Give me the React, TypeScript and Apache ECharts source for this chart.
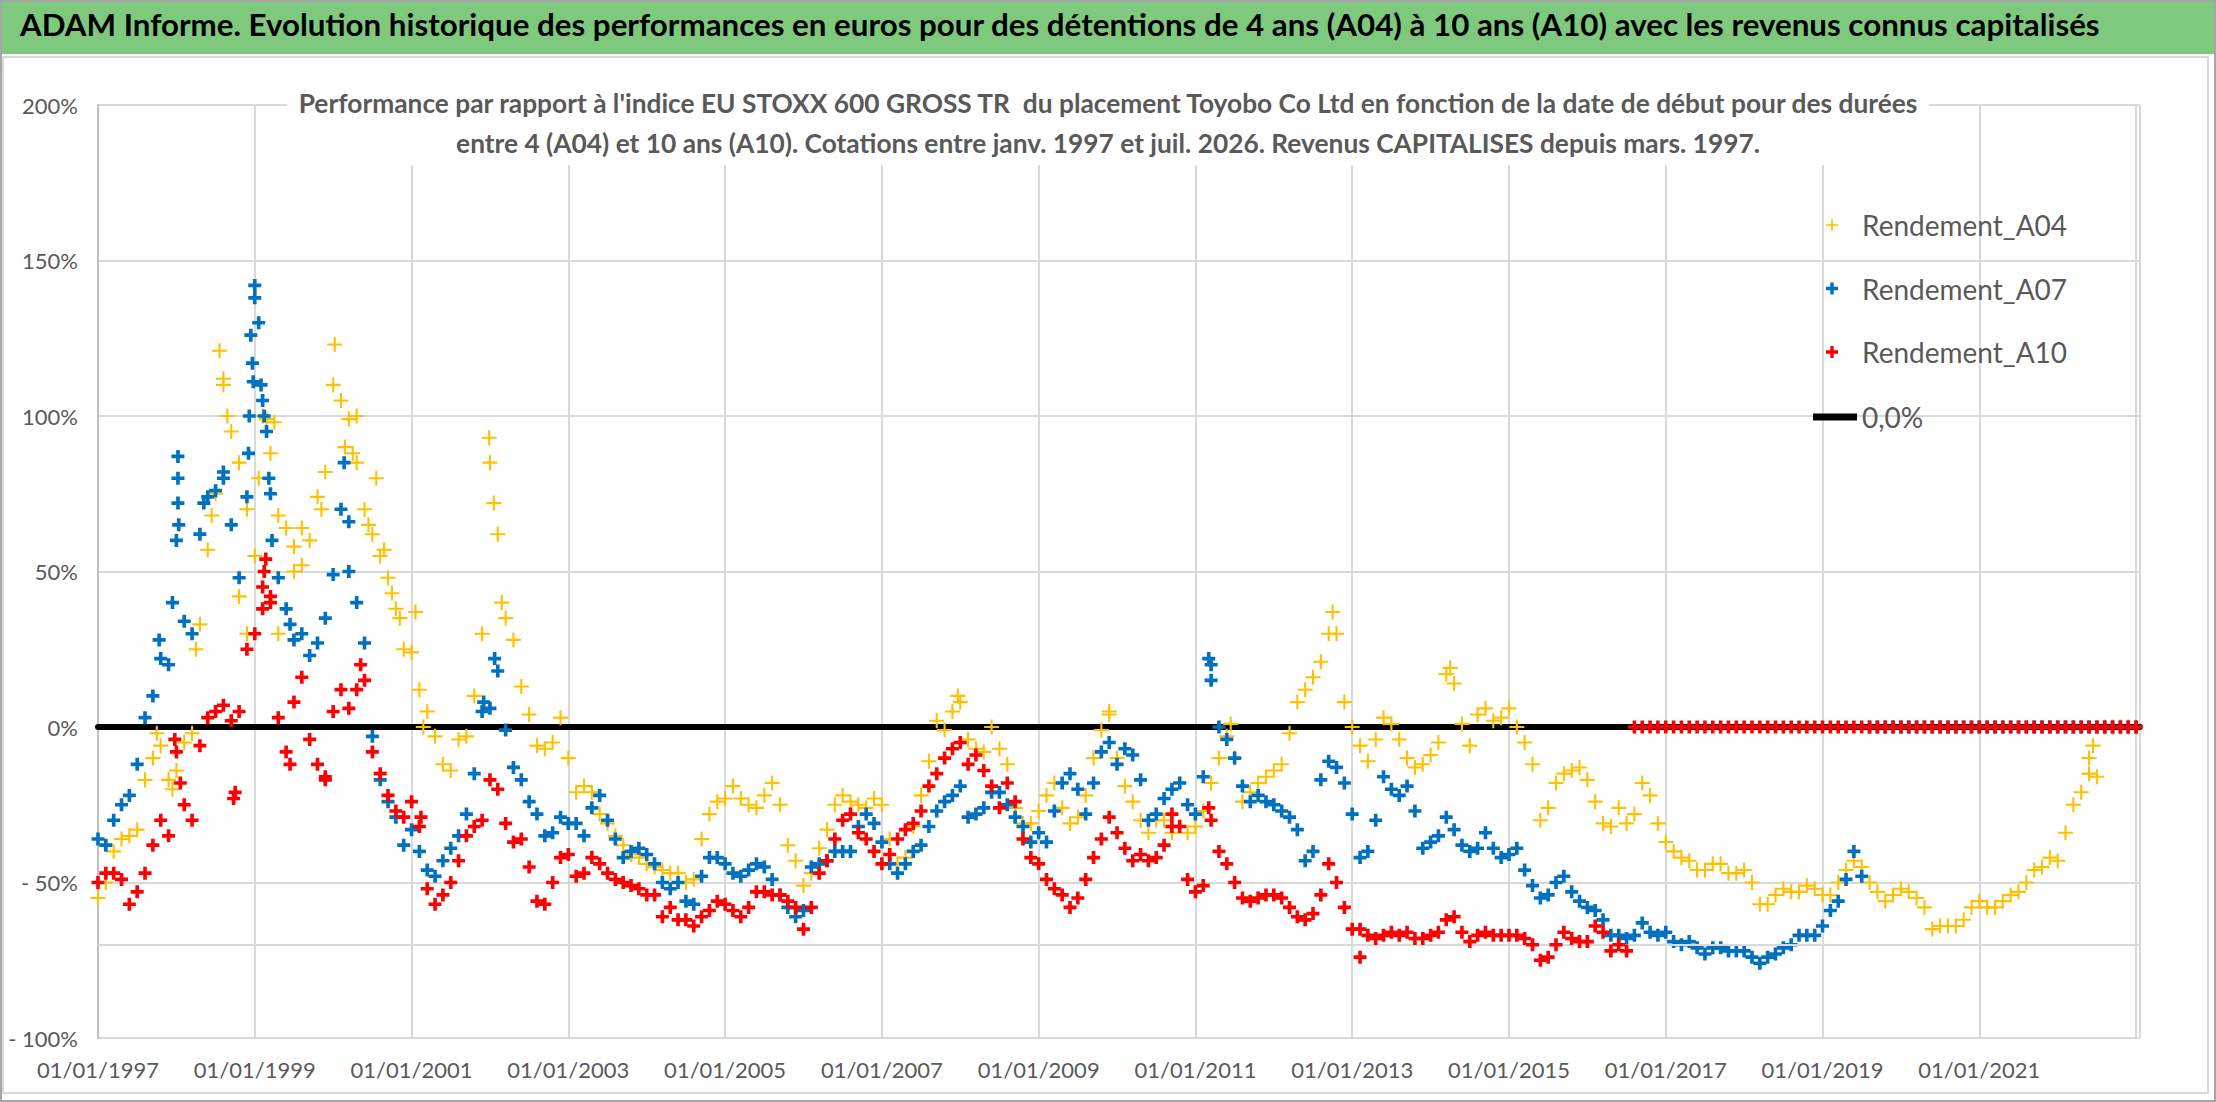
import { useEffect, useRef } from 'react';
import * as echarts from 'echarts';

const TITLE = "ADAM Informe. Evolution historique des performances en euros pour des détentions de 4 ans (A04) à 10 ans (A10) avec les revenus connus capitalisés";
const SUBTITLE = "Performance par rapport à l'indice EU STOXX 600 GROSS TR  du placement Toyobo Co Ltd en fonction de la date de début pour des durées\nentre 4 (A04) et 10 ans (A10). Cotations entre janv. 1997 et juil. 2026. Revenus CAPITALISES depuis mars. 1997.";

const SERIES_NAMES = ['Rendement_A04', 'Rendement_A07', 'Rendement_A10'];
const ZERO_NAME = '0,0%';

// dates de début : 1997.0, 1997.1, ... (pas de 0,1 an)
const START_YEAR = 1997;
const STEP = 0.1;
const X_MIN = 1997;
const X_MAX = 2023.05;
const Y_TICKS = [-100, -50, 0, 50, 100, 150, 200];

const a04 = [
  -55, -50, -40, -36, -35, -33, -17, -10, -6, -17,
  -14, -5, -2, 33, 57, 75, 110, 95, 85, 70,
  55, 100, 88, 68, 64, 58, 52, 60, 74, 82,
  110, 105, 99, 85, 70, 62, 55, 48, 38, 25,
  24, 12, 5, -3, -12, -14, -4, -3, 10, 30,
  85, 62, 35, 28, 13, 4, -6, -7, -5, 3,
  -10, -21, -19, -21, -28, -31, -35, -38, -41, -42,
  -44, -45, -46, -47, -47, -50, -49, -36, -28, -24,
  -23, -19, -23, -25, -26, -22, -18, -25, -38, -43,
  -51, -47, -39, -33, -25, -22, -24, -25, -26, -23,
  -25, -36, -44, -42, -32, -22, -11, 2, -1, 5,
  8, -4, -7, -8, 0, -7, -12, -26, -31, -31,
  -27, -22, -18, -26, -31, -29, -22, -10, -1, 4,
  -10, -19, -24, -30, -34, -30, -30, -34, -32, -34,
  -32, -27, -18, -10, -3, -10, -24, -21, -18, -16,
  -14, -12, -2, 8, 12, 16, 21, 30, 30, 8,
  0, -6, -11, -4, 3, 1, -4, -10, -13, -12,
  -9, -5, 17, 14, 1, -6, 4, 6, 2, 3,
  6, 0, -5, -12, -30, -26, -18, -15, -14, -13,
  -17, -24, -31, -32, -26, -31, -28, -18, -22, -31,
  -37, -40, -42, -43, -46, -46, -44, -44, -47, -47,
  -46, -50, -57, -57, -54, -52, -53, -53, -51, -52,
  -54, -54, -50, -46, -43, -45, -50, -53, -56, -54,
  -52, -53, -55, -58, -65, -64, -64, -64, -62, -58,
  -56, -58, -58, -56, -54, -53, -50, -46, -45, -42,
  -43, -34, -25, -21, -15, -16, 0, 0, 0, 0,
  0,
];

const a07 = [
  -36, -38, -30, -25, -22, -12, 3, 10, 22, 20,
  60, 34, 30, 62, 74, 76, 80, 65, 48, 74,
  138, 105, 75, 48, 38, 28, 30, 23, 27, 35,
  49, 70, 66, 40, 27, -3, -17, -24, -29, -38,
  -33, -40, -46, -48, -43, -39, -35, -28, -15, 5,
  6, 18, -1, -13, -17, -24, -28, -35, -34, -29,
  -31, -31, -35, -26, -22, -30, -36, -42, -40, -39,
  -41, -44, -50, -52, -50, -56, -57, -48, -42, -42,
  -44, -47, -48, -46, -44, -45, -49, -54, -58, -61,
  -59, -45, -44, -43, -40, -40, -40, -32, -28, -31,
  -37, -44, -47, -44, -40, -38, -32, -27, -24, -22,
  -19, -29, -28, -26, -21, -21, -25, -29, -32, -37,
  -34, -37, -27, -18, -15, -20, -28, -18, -8, -5,
  -12, -7, -9, -17, -30, -28, -23, -20, -18, -25,
  -28, -16, 15, 0, -4, -10, -19, -24, -22, -24,
  -25, -27, -29, -33, -43, -40, -17, -11, -13, -18,
  -28, -42, -40, -30, -16, -20, -22, -19, -27, -39,
  -37, -35, -29, -33, -38, -40, -39, -34, -39, -42,
  -41, -39, -46, -51, -55, -54, -50, -48, -53, -56,
  -58, -59, -62, -67, -67, -68, -67, -63, -66, -67,
  -66, -69, -70, -69, -71, -73, -71, -71, -72, -72,
  -72, -74, -76, -74, -73, -71, -70, -67, -67, -67,
  -64, -59, -56, -49, -40, -48, 0, 0, 0, 0,
  0, 0, 0, 0, 0, 0, 0, 0, 0, 0,
  0, 0, 0, 0, 0, 0, 0, 0, 0, 0,
  0, 0, 0, 0, 0, 0, 0, 0, 0, 0,
  0,
];

const a10 = [
  -50, -47, -47, -49, -57, -53, -47, -38, -30, -35,
  -8, -25, -30, -6, 3, 5, 7, 2, 5, 25,
  30, 45, 40, 3, -8, 8, 16, -4, -12, -16,
  5, 12, 6, 12, 15, -8, -15, -22, -27, -29,
  -24, -32, -52, -57, -54, -50, -43, -35, -32, -30,
  -17, -20, -31, -37, -36, -45, -56, -57, -50, -42,
  -41, -48, -47, -42, -44, -47, -49, -50, -51, -52,
  -54, -54, -61, -58, -62, -62, -64, -61, -59, -56,
  -57, -59, -61, -58, -53, -53, -54, -54, -56, -58,
  -65, -58, -47, -43, -36, -30, -28, -34, -36, -40,
  -44, -41, -36, -33, -31, -27, -19, -15, -10, -7,
  -5, -12, -9, -14, -19, -26, -18, -24, -36, -42,
  -44, -49, -52, -54, -58, -55, -49, -42, -36, -29,
  -34, -39, -43, -41, -43, -42, -38, -32, -32, -49,
  -53, -51, -30, -40, -44, -50, -55, -56, -55, -54,
  -54, -55, -58, -61, -62, -60, -54, -44, -50, -58,
  -65, -65, -67, -68, -67, -66, -67, -66, -68, -68,
  -67, -66, -62, -61, -66, -69, -67, -66, -67, -67,
  -67, -67, -68, -70, -75, -74, -70, -66, -68, -69,
  -69, -64, -66, -72, -70, -72, 0, 0, 0, 0,
  0, 0, 0, 0, 0, 0, 0, 0, 0, 0,
  0, 0, 0, 0, 0, 0, 0, 0, 0, 0,
  0, 0, 0, 0, 0, 0, 0, 0, 0, 0,
  0, 0, 0, 0, 0, 0, 0, 0, 0, 0,
  0, 0, 0, 0, 0, 0, 0, 0, 0, 0,
  0, 0, 0, 0, 0, 0, 0, 0, 0, 0,
  0,
];

// points isolés (pics, dispersion) : [année, %]
const a04Extra = [
  [1997.75, -2], [1997.95, -20], [1998.25, 25], [1998.45, 68], [1998.55, 121], [1998.6, 112],
  [1998.65, 100], [1998.8, 42], [1998.9, 30], [1999.05, 80], [1999.15, 99], [1999.25, 98],
  [1999.3, 30], [1999.5, 50], [1999.6, 64], [1999.85, 70], [2000.02, 123], [2000.15, 90],
  [2000.25, 88], [2000.3, 100], [2000.45, 65], [2000.55, 80], [2000.65, 57], [2000.75, 43],
  [2000.85, 35], [2001.05, 37], [2001.15, 0], [2001.99, 93], [2002.05, 72], [2002.15, 40],
  [2007.97, 10], [2009.9, 5], [2011.45, 1], [2012.75, 37], [2014.25, 19],
  [2022.4, -10], [2022.45, -6],
];
const a07Extra = [
  [1997.78, 28], [1997.95, 40], [1998.02, 87], [1998.02, 80], [1998.02, 72], [1998.03, 65],
  [1998.35, 72], [1998.6, 82], [1998.92, 88], [1998.93, 100], [1998.95, 126], [1998.97, 117],
  [1998.98, 111], [1999.05, 130], [1999.08, 110], [1999.12, 100], [1999.15, 95], [1999.18, 80],
  [1999.22, 60], [1999.45, 33], [1999.0, 142], [2000.14, 85], [2000.2, 50], [2001.92, 8],
  [2002.06, 22], [2011.17, 22], [2011.2, 20],
];
const a10Extra = [
  [1997.98, -4], [1998.05, -18], [1998.73, -23], [1998.75, -21], [1999.1, 38], [1999.12, 50],
  [1999.14, 54], [1999.2, 42], [1999.45, -12], [1999.9, -17], [2000.35, 20], [2001.12, -29],
  [2010.7, -28], [2011.17, -26], [2013.1, -74],
];

const FONT = "Lato, 'Noto Sans', sans-serif";
const GREY_TEXT = '#595959';
const GRID_COLOR = '#d9d9d9';
const COLORS = ['#ffc000', '#0070c0', '#ff0000'];
const PLUS_THIN = 'path://M4.3,0H5.7V4.3H10V5.7H5.7V10H4.3V5.7H0V4.3H4.3Z';
const PLUS_THICK = 'path://M3.6,0H6.4V3.6H10V6.4H6.4V10H3.6V6.4H0V3.6H3.6Z';

const toPoints = (vals: number[]) =>
  vals.map((v, i) => [Math.round((START_YEAR + i * STEP) * 100) / 100, v]);

export default function App() {
  const chartRef = useRef<HTMLDivElement>(null);

  useEffect(() => {
    if (!chartRef.current) return;
    const chart = echarts.init(chartRef.current, null, { renderer: 'svg' });

    const main = [a04, a07, a10];
    const extra = [a04Extra, a07Extra, a10Extra];

    const scatter = SERIES_NAMES.map((name, k) => ({
      name,
      type: 'scatter',
      symbol: k === 0 ? PLUS_THIN : PLUS_THICK,
      symbolSize: k === 0 ? 15 : 13,
      itemStyle: { color: COLORS[k], opacity: 1 },
      z: 3 + k,
      data: [...toPoints(main[k]), ...extra[k]],
    }));

    const option = {
      animation: false,
      backgroundColor: '#fff',
      textStyle: { fontFamily: FONT },
      title: [
        {
          text: TITLE,
          left: 20,
          top: 8,
          padding: 0,
          textStyle: { fontFamily: FONT, fontSize: 31.3, fontWeight: 'bold', color: '#000' },
        },
        {
          text: SUBTITLE,
          left: 'center',
          top: 81,
          padding: [2, 10, 2, 10],
          backgroundColor: '#fff',
          textStyle: { fontFamily: FONT, fontSize: 26.3, fontWeight: 'bold', color: GREY_TEXT, lineHeight: 40 },
        },
      ],
      graphic: {
        z: 1,
        elements: [
          { type: 'rect', shape: { x: 1, y: 1, width: 2214, height: 1100 }, style: { fill: 'none', stroke: '#a6a6a6', lineWidth: 2 } },
          { type: 'rect', shape: { x: 2, y: 2, width: 2212, height: 52 }, style: { fill: '#7fc97f' } },
          { type: 'rect', shape: { x: 3, y: 57, width: 2205, height: 1036 }, style: { fill: 'none', stroke: GRID_COLOR, lineWidth: 2 } },
          { type: 'rect', shape: { x: 1809, y: 184, width: 331, height: 261 }, style: { fill: '#fff' } },
        ],
      },
      legend: [
        {
          data: SERIES_NAMES.map((name, k) => ({ name, icon: k === 0 ? PLUS_THIN : PLUS_THICK })),
          orient: 'vertical',
          left: 1826,
          top: 210,
          padding: 0,
          itemWidth: 12,
          itemHeight: 12,
          itemGap: 33.5,
          selectedMode: false,
          textStyle: { fontFamily: FONT, fontSize: 28, color: GREY_TEXT, lineHeight: 30, padding: [0, 0, 0, 19] },
        },
        {
          data: [{ name: ZERO_NAME, icon: 'rect' }],
          orient: 'vertical',
          left: 1813,
          top: 402,
          padding: 0,
          itemWidth: 44,
          itemHeight: 7,
          selectedMode: false,
          textStyle: { fontFamily: FONT, fontSize: 28, color: GREY_TEXT, lineHeight: 30 },
        },
      ],
      grid: { left: 98, right: 76, top: 105, bottom: 64 },
      xAxis: {
        type: 'value',
        min: X_MIN,
        max: X_MAX,
        interval: 2,
        axisLine: { show: true, lineStyle: { color: '#bfbfbf', width: 2 } },
        axisTick: { show: false },
        axisLabel: {
          margin: 20,
          fontFamily: FONT,
          fontSize: 22,
          color: GREY_TEXT,
          showMaxLabel: false,
          formatter: (v: number) => (v > 2022 ? '' : '01/01/' + v),
        },
        splitLine: { show: true, lineStyle: { color: GRID_COLOR, width: 2 } },
      },
      yAxis: {
        type: 'value',
        min: Y_TICKS[0],
        max: Y_TICKS[Y_TICKS.length - 1],
        interval: 50,
        axisLine: { show: true, lineStyle: { color: '#bfbfbf', width: 2 } },
        axisTick: { show: false },
        axisLabel: {
          margin: 20,
          fontFamily: FONT,
          fontSize: 22,
          color: GREY_TEXT,
          formatter: (v: number) => (v < 0 ? '- ' + Math.abs(v) + '%' : v + '%'),
        },
        splitLine: { show: true, lineStyle: { color: GRID_COLOR, width: 2 } },
      },
      series: [
        {
          name: ZERO_NAME,
          type: 'line',
          symbol: 'none',
          z: 2,
          lineStyle: { color: '#000', width: 6, cap: 'round' },
          itemStyle: { color: '#000' },
          data: [[X_MIN, 0], [X_MAX, 0]],
          markLine: {
            silent: true,
            symbol: 'none',
            label: { show: false },
            lineStyle: { color: GRID_COLOR, width: 2, type: 'solid' },
            data: [{ yAxis: -70 }],
          },
        },
        ...scatter,
      ],
    };

    chart.setOption(option);

    return () => {
      chart.dispose();
    };
  }, []);

  return (
    <div
      ref={chartRef}
      style={{ position: 'absolute', left: 0, top: 0, width: '2216px', height: '1102px' }}
    />
  );
}
